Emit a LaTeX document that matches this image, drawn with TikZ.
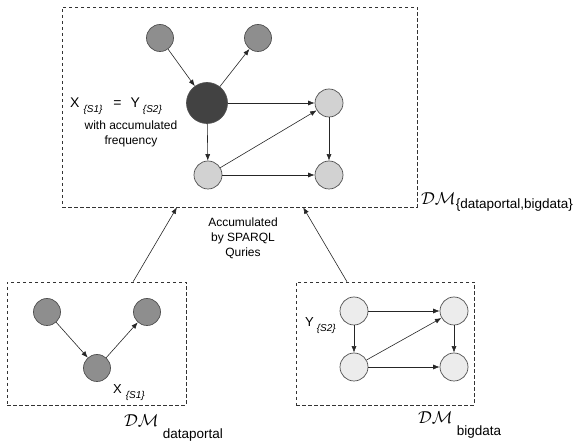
\documentclass[tikz,border=0pt]{standalone}
\usepackage{fontspec}
\setmainfont{Liberation Sans}
\usetikzlibrary{calc}
\usetikzlibrary{arrows.meta}

\definecolor{edgegray}{HTML}{505050}
\definecolor{midfill}{HTML}{8E8E8E}
\definecolor{darkfill}{HTML}{424242}
\definecolor{lightfill}{HTML}{D2D2D2}
\definecolor{palefill}{HTML}{ECECEC}

\tikzset{
    dmbox/.style={draw=black!80,dashed,dash pattern=on 3.5pt off 2.5pt,line width=0.7pt,inner sep=0pt},
    vertex/.style={circle,draw=edgegray,line width=0.7pt,minimum size=27pt,inner sep=0pt},
    midvertex/.style={vertex,fill=midfill},
    keyvertex/.style={vertex,fill=darkfill,minimum size=41pt},
    lightvertex/.style={vertex,fill=lightfill,minimum size=28pt},
    palevertex/.style={vertex,fill=palefill,minimum size=28pt},
    link/.style={->,line width=0.6pt,draw=black!85},
    plain/.style={font=\fontsize{12}{15}\selectfont,align=center,inner sep=0pt},
}
\newcommand{\srcsub}[1]{\raisebox{-5pt}{\fontsize{10}{12}\selectfont\itshape\{#1\}}}
\newcommand{\dmsub}[1]{\raisebox{-12pt}{\fontsize{13.5}{15}\selectfont #1}}

\begin{document}
\begin{tikzpicture}[x=1pt,y=-1pt,>={Latex[length=6.5pt,width=5pt]}]
    \useasboundingbox (0,0) rectangle (582,446);
    % the three models
    \node[dmbox,minimum width=355pt,minimum height=200pt] (top) at (239.5,107) {};
    \node[dmbox,minimum width=179pt,minimum height=123pt] (bl) at (96.5,343.5) {};
    \node[dmbox,minimum width=178pt,minimum height=123pt] (br) at (385,343.5) {};

    % merged graph
    \node[midvertex] (t1) at (160,38) {};
    \node[midvertex] (t2) at (258,38) {};
    \node[keyvertex] (t3) at (207,103) {};
    \node[lightvertex] (t4) at (329,103) {};
    \node[lightvertex] (t5) at (208,175) {};
    \node[lightvertex] (t6) at (329,175) {};
    \foreach \a/\b in {t1/t3,t3/t2,t3/t4,t3/t5,t5/t4,t5/t6,t4/t6}
        \draw[link] (\a) -- (\b);
    \node[plain,anchor=base west] (eq) at (70,108)
        {\fontsize{14}{16}\selectfont X\hspace{4pt}\srcsub{S1}\hspace{11pt}=\hspace{9pt}Y\hspace{3pt}\srcsub{S2}};
    \node[plain] (freq) at (131,134) {with accumulated\\frequency};
    \node[anchor=base west,inner sep=0pt] (dmtop) at (421,205)
        {\fontsize{19}{22}\selectfont$\mathcal{DM}$\raisebox{-4pt}{\fontsize{13.5}{15}\selectfont\{dataportal,bigdata\}}};

    % dataportal graph
    \node[midvertex] (a1) at (47,312) {};
    \node[midvertex] (a2) at (147,312) {};
    \node[midvertex] (a3) at (97,368) {};
    \foreach \a/\b in {a1/a3,a3/a2}
        \draw[link] (\a) -- (\b);
    \node[plain,anchor=base west] (xs) at (113,394)
        {\fontsize{13}{15}\selectfont X\hspace{4pt}\srcsub{S1}};
    \node[anchor=base west,inner sep=0pt] (dmleft) at (124,427)
        {\fontsize{19}{22}\selectfont$\mathcal{DM}$\hspace{4pt}\dmsub{dataportal}};

    % bigdata graph
    \node[palevertex] (b1) at (354,311) {};
    \node[palevertex] (b2) at (454,311) {};
    \node[palevertex] (b3) at (354,367) {};
    \node[palevertex] (b4) at (454,367) {};
    \foreach \a/\b in {b1/b2,b1/b3,b3/b2,b3/b4,b2/b4}
        \draw[link] (\a) -- (\b);
    \node[plain,anchor=base west] (ys) at (305,327)
        {\fontsize{13}{15}\selectfont Y\hspace{3pt}\srcsub{S2}};
    \node[anchor=base west,inner sep=0pt] (dmright) at (418,424)
        {\fontsize{19}{22}\selectfont$\mathcal{DM}$\hspace{4pt}\dmsub{bigdata}};

    % accumulation
    \draw[link] ($(bl.north west)!0.704!(bl.north east)$) -- ($(top.south west)!0.324!(top.south east)$);
    \draw[link] ($(br.north west)!0.287!(br.north east)$) -- ($(top.south west)!0.679!(top.south east)$);
    \node[plain] (acc) at (243,238) {Accumulated\\by SPARQL\\Quries};
\end{tikzpicture}
\end{document}
